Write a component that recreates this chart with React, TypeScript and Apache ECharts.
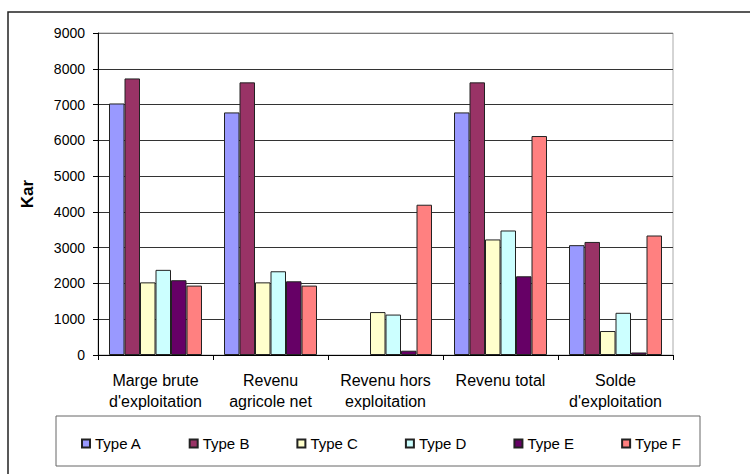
import React, { useEffect, useRef } from "react";
import * as echarts from "echarts";

const categories = [
  "Marge brute\nd'exploitation",
  "Revenu\nagricole net",
  "Revenu hors\nexploitation",
  "Revenu total",
  "Solde\nd'exploitation",
];
const seriesNames = ["Type A", "Type B", "Type C", "Type D", "Type E", "Type F"];
const typeA = [7030, 6780, null, 6780, 3070];
const typeB = [7730, 7620, null, 7620, 3160];
const typeC = [2030, 2030, 1200, 3230, 670];
const typeD = [2380, 2340, 1130, 3480, 1180];
const typeE = [2090, 2060, 120, 2200, 70];
const typeF = [1940, 1940, 4200, 6120, 3340];
const seriesValues = [typeA, typeB, typeC, typeD, typeE, typeF];
const colors = ["#9999FF", "#993366", "#FFFFCC", "#CCFFFF", "#660066", "#FF8080"];
const yTicks = { min: 0, max: 9000, interval: 1000 };

const FONT = "'Liberation Sans', Arial, sans-serif";

export default function App() {
  const ref = useRef<HTMLDivElement>(null);
  useEffect(() => {
    if (!ref.current) return;
    const chart = echarts.init(ref.current, null, { renderer: "svg" });
    const splitColors = Array.from({ length: 10 }, (_, i) => (i === 9 ? "#777777" : "#333333"));
    chart.setOption({
      animation: false,
      backgroundColor: "#ffffff",
      textStyle: { fontFamily: FONT },
      grid: {
        left: 98,
        top: 33,
        width: 575,
        height: 322,
        show: true,
        borderColor: "#aaaaaa",
        borderWidth: 1,
        backgroundColor: "transparent",
      },
      xAxis: {
        type: "category",
        data: categories,
        axisLine: { lineStyle: { color: "#000", width: 1 } },
        axisTick: { show: true, length: 5, interval: 0, lineStyle: { color: "#000" } },
        axisLabel: {
          interval: 0,
          fontSize: 16,
          lineHeight: 21,
          color: "#000",
          margin: 15,
          fontFamily: FONT,
        },
      },
      yAxis: {
        type: "value",
        min: yTicks.min,
        max: yTicks.max,
        interval: yTicks.interval,
        name: "Kar",
        nameLocation: "middle",
        nameRotate: 90,
        nameGap: 62,
        nameTextStyle: { fontSize: 17, fontWeight: "bold", color: "#000", fontFamily: FONT },
        axisLine: { show: true, lineStyle: { color: "#000", width: 1 } },
        axisTick: { show: true, length: 5, lineStyle: { color: "#000" } },
        axisLabel: {
          fontSize: 14,
          color: "#000",
          margin: 13,
          fontFamily: FONT,
          formatter: (v: number) => String(v),
        },
        splitLine: { show: true, lineStyle: { color: splitColors, width: 1 } },
      },
      legend: {
        data: seriesNames,
        left: 76,
        top: 431,
        itemWidth: 8,
        itemHeight: 8,
        itemGap: 47,
        icon: "rect",
        textStyle: { fontSize: 15, color: "#000", width: 50, fontFamily: FONT },
      },
      graphic: [
        {
          type: "rect",
          z: -1,
          shape: { x: 8, y: 12, width: 800, height: 500 },
          style: { fill: "transparent", stroke: "#222", lineWidth: 1.5 },
          silent: true,
        },
        {
          type: "rect",
          z: -1,
          shape: { x: 56, y: 416, width: 644, height: 50 },
          style: { fill: "transparent", stroke: "#666", lineWidth: 1 },
          silent: true,
        },
      ],
      series: seriesNames.map((name, i) => ({
        name,
        type: "bar",
        data: seriesValues[i],
        barWidth: 15.5,
        barGap: "0%",
        itemStyle: { color: colors[i], borderColor: "#222", borderWidth: 1 },
      })),
    });
    return () => chart.dispose();
  }, []);
  return (
    <div
      ref={ref}
      style={{ position: "absolute", left: 0, top: 0, width: 750, height: 474, background: "#fff" }}
    />
  );
}
